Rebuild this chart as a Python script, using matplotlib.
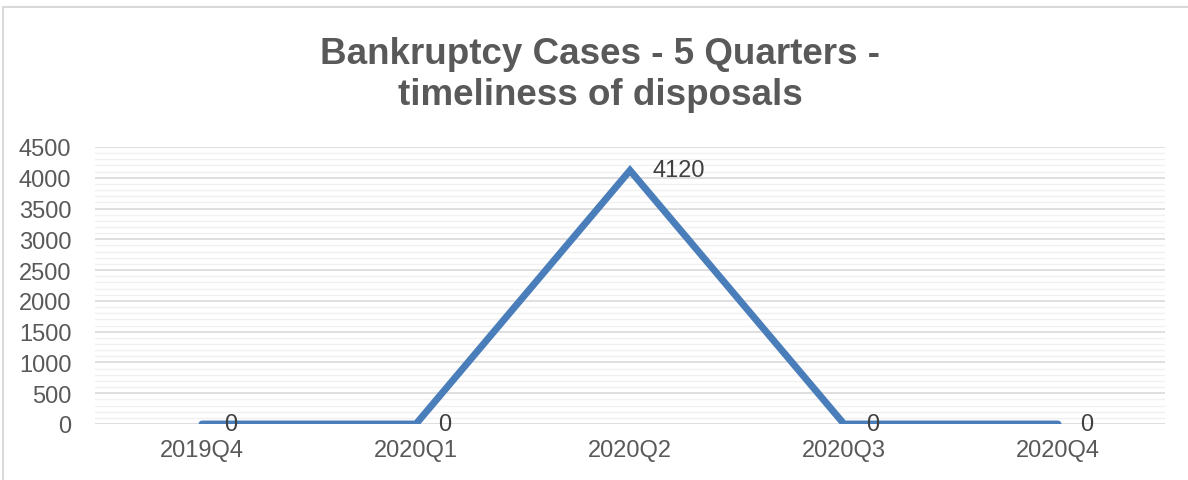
import numpy as np
import matplotlib.pyplot as plt
from matplotlib.patches import Rectangle
from matplotlib.ticker import MultipleLocator

# Daten
quartale = ['2019Q4', '2020Q1', '2020Q2', '2020Q3', '2020Q4']
faelle = [0, 0, 4120, 0, 0]

plt.rcParams['font.family'] = ['Liberation Sans', 'DejaVu Sans']

fig = plt.figure(figsize=(11.88, 4.81), dpi=100)
ax = fig.add_axes([95 / 1188, 1 - 425 / 481, 1070 / 1188, 277 / 481])

x = np.arange(len(quartale))
ax.plot(x, faelle, color='#4a7ebb', linewidth=5, solid_capstyle='round',
        solid_joinstyle='miter', zorder=3)

# Datenbeschriftungen rechts neben den Punkten
for xi, yi in zip(x, faelle):
    ax.annotate(str(yi), (xi, yi), xytext=(16, 0), textcoords='offset points',
                ha='left', va='center', fontsize=17, color='#404040', zorder=4)

ax.set_xlim(-0.5, len(quartale) - 0.5)
ax.set_ylim(0, 4500)
ax.set_xticks(x)
ax.set_xticklabels(quartale)
ax.yaxis.set_major_locator(MultipleLocator(500))
ax.yaxis.set_minor_locator(MultipleLocator(100))

ax.grid(True, which='major', axis='y', color='#d9d9d9', linewidth=1.2, zorder=0)
ax.grid(True, which='minor', axis='y', color='#f0f0f0', linewidth=1.0, zorder=0)
ax.set_axisbelow(True)

for s in ax.spines.values():
    s.set_visible(False)
ax.tick_params(axis='both', which='both', length=0, labelsize=17,
               labelcolor='#595959')
ax.tick_params(axis='y', pad=17)
ax.tick_params(axis='x', pad=11)

fig.text(600 / 1188, 1 - 75 / 481, 'Bankruptcy Cases - 5 Quarters -\ntimeliness of disposals',
         ha='center', va='center', fontsize=26.5, fontweight='bold',
         color='#595959', linespacing=1.25)

# Rahmen um das Diagramm
fig.patches.append(Rectangle((3 / 1188, -0.1), 1.2, 1 - 8 / 481 + 0.1,
                             transform=fig.transFigure, fill=False,
                             edgecolor='#d9d9d9', linewidth=1.5))

fig.savefig('out.png', dpi=100)
